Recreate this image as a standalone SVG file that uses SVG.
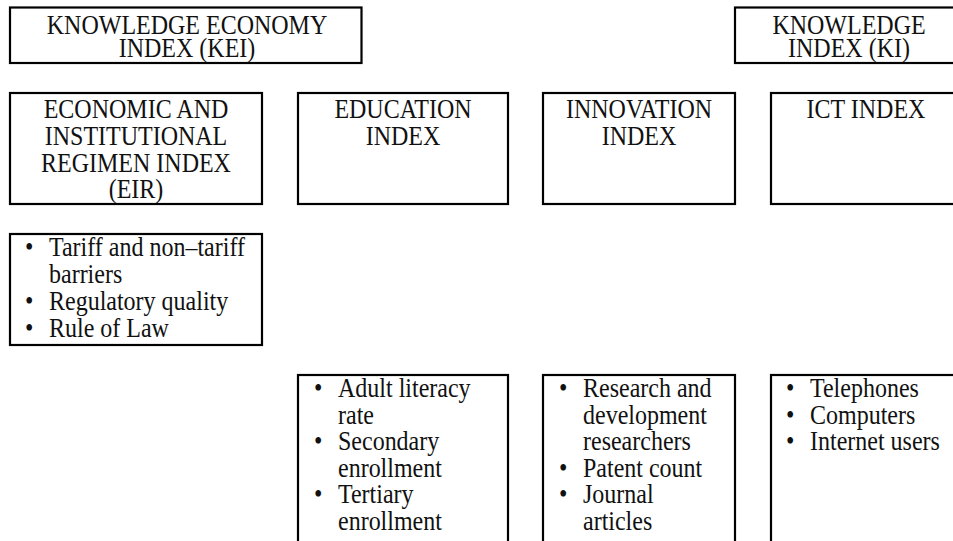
<svg xmlns="http://www.w3.org/2000/svg" width="953" height="541" viewBox="0 0 953 541">
<style>
.box{fill:#fff;stroke:#000;stroke-width:2.2}
text{font-family:"Liberation Serif","Times New Roman",serif;font-size:24px;fill:#111}
.c{text-anchor:middle}
</style>
<rect width="953" height="541" fill="#fff"/>
<g id="kei">
<rect class="box" x="10" y="7.5" width="351.5" height="55.5"/>
<text class="c" transform="matrix(1 0 0 1.13 187 33.5)">KNOWLEDGE ECONOMY</text>
<text class="c" transform="matrix(1 0 0 1.13 187 57)">INDEX (KEI)</text>
</g>
<g id="ki">
<rect class="box" x="735" y="7.5" width="230" height="55.5"/>
<text class="c" transform="matrix(1 0 0 1.13 849 33.5)">KNOWLEDGE</text>
<text class="c" transform="matrix(1 0 0 1.13 849 57)">INDEX (KI)</text>
</g>
<g id="eir">
<rect class="box" x="10" y="93" width="252" height="111"/>
<text class="c" transform="matrix(1 0 0 1.13 136 118)">ECONOMIC AND</text>
<text class="c" transform="matrix(1 0 0 1.13 136 145)">INSTITUTIONAL</text>
<text class="c" transform="matrix(1 0 0 1.13 136 172)">REGIMEN INDEX</text>
<text class="c" transform="matrix(1 0 0 1.13 136 198)">(EIR)</text>
</g>
<g id="education">
<rect class="box" x="298" y="93" width="210" height="111"/>
<text class="c" transform="matrix(1 0 0 1.13 403 118)">EDUCATION</text>
<text class="c" transform="matrix(1 0 0 1.13 403 145)">INDEX</text>
</g>
<g id="innovation">
<rect class="box" x="543" y="93" width="192" height="111"/>
<text class="c" transform="matrix(1 0 0 1.13 639 118)">INNOVATION</text>
<text class="c" transform="matrix(1 0 0 1.13 639 145)">INDEX</text>
</g>
<g id="ict">
<rect class="box" x="771" y="93" width="195" height="111"/>
<text class="c" transform="matrix(1 0 0 1.13 866 118)">ICT INDEX</text>
</g>
<g id="eir-items">
<rect class="box" x="10" y="234" width="252" height="111"/>
<text transform="matrix(1 0 0 1.13 25 255.5)">•</text>
<text transform="matrix(1 0 0 1.13 49 255.5)">Tariff and non–tariff</text>
<text transform="matrix(1 0 0 1.13 49 282.5)">barriers</text>
<text transform="matrix(1 0 0 1.13 25 309.5)">•</text>
<text transform="matrix(1 0 0 1.13 49 309.5)">Regulatory quality</text>
<text transform="matrix(1 0 0 1.13 25 336.5)">•</text>
<text transform="matrix(1 0 0 1.13 49 336.5)">Rule of Law</text>
</g>
<g id="education-items">
<rect class="box" x="298" y="375" width="210" height="180"/>
<text transform="matrix(1 0 0 1.13 314 397)">•</text>
<text transform="matrix(1 0 0 1.13 338 397)">Adult literacy</text>
<text transform="matrix(1 0 0 1.13 338 423.5)">rate</text>
<text transform="matrix(1 0 0 1.13 314 450)">•</text>
<text transform="matrix(1 0 0 1.13 338 450)">Secondary</text>
<text transform="matrix(1 0 0 1.13 338 476.5)">enrollment</text>
<text transform="matrix(1 0 0 1.13 314 503)">•</text>
<text transform="matrix(1 0 0 1.13 338 503)">Tertiary</text>
<text transform="matrix(1 0 0 1.13 338 529.5)">enrollment</text>
</g>
<g id="innovation-items">
<rect class="box" x="543" y="375" width="192" height="180"/>
<text transform="matrix(1 0 0 1.13 559 397)">•</text>
<text transform="matrix(1 0 0 1.13 583 397)">Research and</text>
<text transform="matrix(1 0 0 1.13 583 423.5)">development</text>
<text transform="matrix(1 0 0 1.13 583 450)">researchers</text>
<text transform="matrix(1 0 0 1.13 559 476.5)">•</text>
<text transform="matrix(1 0 0 1.13 583 476.5)">Patent count</text>
<text transform="matrix(1 0 0 1.13 559 503)">•</text>
<text transform="matrix(1 0 0 1.13 583 503)">Journal</text>
<text transform="matrix(1 0 0 1.13 583 529.5)">articles</text>
</g>
<g id="ict-items">
<rect class="box" x="771" y="375" width="195" height="180"/>
<text transform="matrix(1 0 0 1.13 786 397)">•</text>
<text transform="matrix(1 0 0 1.13 810 397)">Telephones</text>
<text transform="matrix(1 0 0 1.13 786 423.5)">•</text>
<text transform="matrix(1 0 0 1.13 810 423.5)">Computers</text>
<text transform="matrix(1 0 0 1.13 786 450)">•</text>
<text transform="matrix(1 0 0 1.13 810 450)">Internet users</text>
</g>
<g id="connectors"></g>
</svg>
